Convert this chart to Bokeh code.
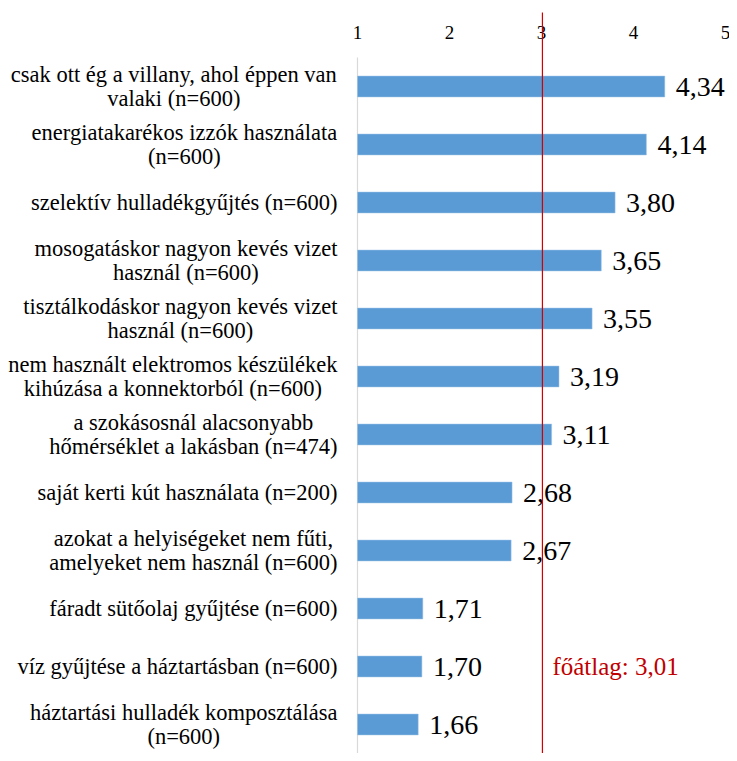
from bokeh.plotting import figure
from bokeh.models import Range1d, ColumnDataSource
from bokeh.core.properties import value
from bokeh.embed import file_html
from bokeh.resources import INLINE

# ---- data ----
categories = [
    "csak ott ég a villany, ahol éppen van\nvalaki (n=600)",
    "energiatakarékos izzók használata\n(n=600)",
    "szelektív hulladékgyűjtés (n=600)",
    "mosogatáskor nagyon kevés vizet\nhasznál (n=600)",
    "tisztálkodáskor nagyon kevés vizet\nhasznál (n=600)",
    "nem használt elektromos készülékek\nkihúzása a konnektorból (n=600)",
    "a szokásosnál alacsonyabb\nhőmérséklet a lakásban (n=474)",
    "saját kerti kút használata (n=200)",
    "azokat a helyiségeket nem fűti,\namelyeket nem használ (n=600)",
    "fáradt sütőolaj gyűjtése (n=600)",
    "víz gyűjtése a háztartásban (n=600)",
    "háztartási hulladék komposztálása\n(n=600)",
]
values = [4.34, 4.14, 3.80, 3.65, 3.55, 3.19, 3.11, 2.68, 2.67, 1.71, 1.70, 1.66]
grand_mean = 3.01
mean_label = "főátlag: 3,01"
x_ticks = [1, 2, 3, 4, 5]
scale_min = 1

# ---- layout ----
W, H = 729, 753
px_x = 92.0          # pixels per unit on x
x0_px = 357          # pixel position of x=1
px_y = 58.0          # pixels per category band
y0_px = 86           # pixel position of first bar center

xmin = scale_min - x0_px / px_x
xmax = xmin + W / px_x
ytop = -y0_px / px_y
ybot = ytop + H / px_y

FONT = "Liberation Serif"
CAT_SIZE = 22.5
LINE_GAP = 24.5
LABEL_RIGHT = 20     # gap between labels' right edge and the axis line

# Times-compatible advance widths (per 1000 em) used to centre wrapped lines
_W = {" ": 250, "(": 333, ")": 333, ",": 250, "=": 564, ":": 278,
      "a": 444, "b": 500, "c": 444, "d": 500, "e": 444, "f": 333, "g": 500,
      "h": 500, "i": 278, "j": 278, "k": 500, "l": 278, "m": 778, "n": 500,
      "o": 500, "p": 500, "q": 500, "r": 333, "s": 389, "t": 278, "u": 500,
      "v": 500, "w": 722, "x": 500, "y": 500, "z": 444,
      "á": 444, "é": 444, "í": 278, "ó": 500, "ö": 500, "ő": 500,
      "ú": 500, "ü": 500, "ű": 500}


def text_width(s, size):
    return sum(_W.get(ch, 500) for ch in s) * size / 1000.0


n = len(categories)
pos = list(range(n))
labels = [f"{v:.2f}".replace(".", ",") for v in values]

src = ColumnDataSource(dict(y=pos, v=values, lab=labels, base=[scale_min] * n))

# split wrapped category labels into individual centred lines
ly, lt, lxo, lyo = [], [], [], []
for i, cat in enumerate(categories):
    lines = cat.split("\n")
    maxw = max(text_width(s, CAT_SIZE) for s in lines)
    k = len(lines)
    for j, s in enumerate(lines):
        ly.append(i)
        lt.append(s)
        lxo.append(-LABEL_RIGHT - maxw / 2.0)
        lyo.append((j - (k - 1) / 2.0) * LINE_GAP)
cat_src = ColumnDataSource(dict(y=ly, t=lt, xo=lxo, yo=lyo, base=[scale_min] * len(ly)))

p = figure(width=W, height=H, output_backend="svg", toolbar_location=None,
           x_range=Range1d(xmin, xmax), y_range=Range1d(ybot, ytop),
           x_axis_location=None, y_axis_location=None, min_border=0)
p.outline_line_color = None
p.grid.visible = False
p.background_fill_color = "white"
p.border_fill_color = "white"

# category axis line (light gray)
p.segment(x0=[scale_min], x1=[scale_min], y0=[-0.5], y1=[ybot],
          line_color="#d9d9d9", line_width=1.2)

# bars
p.hbar(y="y", left="base", right="v", height=0.36, source=src,
       fill_color="#5b9bd5", line_color="#9dc3e6", line_width=0.5)

# value labels
p.text(x="v", y="y", text="lab", source=src, x_offset=11,
       text_font=value(FONT), text_font_size="28px", text_color="black",
       text_align="left", text_baseline="middle")

# category labels
p.text(x="base", y="y", text="t", source=cat_src, x_offset="xo", y_offset="yo",
       text_font=value(FONT), text_font_size=f"{CAT_SIZE}px", text_color="black",
       text_align="center", text_baseline="middle")

# x tick labels at the top
tick_y = ytop + 32 / px_y
p.text(x=x_ticks, y=[tick_y] * len(x_ticks), text=[str(t) for t in x_ticks],
       text_font=value(FONT), text_font_size="19px", text_color="black",
       text_align="center", text_baseline="middle")

# grand mean line
p.segment(x0=[grand_mean], x1=[grand_mean], y0=[ytop + 12 / px_y], y1=[ybot],
          line_color="#d40000", line_width=1.2)
p.text(x=[grand_mean], y=[10], text=[mean_label], x_offset=10,
       text_font=value(FONT), text_font_size="25px", text_color="#c00000",
       text_align="left", text_baseline="middle")

open("out.html", "w").write(file_html(p, INLINE))
